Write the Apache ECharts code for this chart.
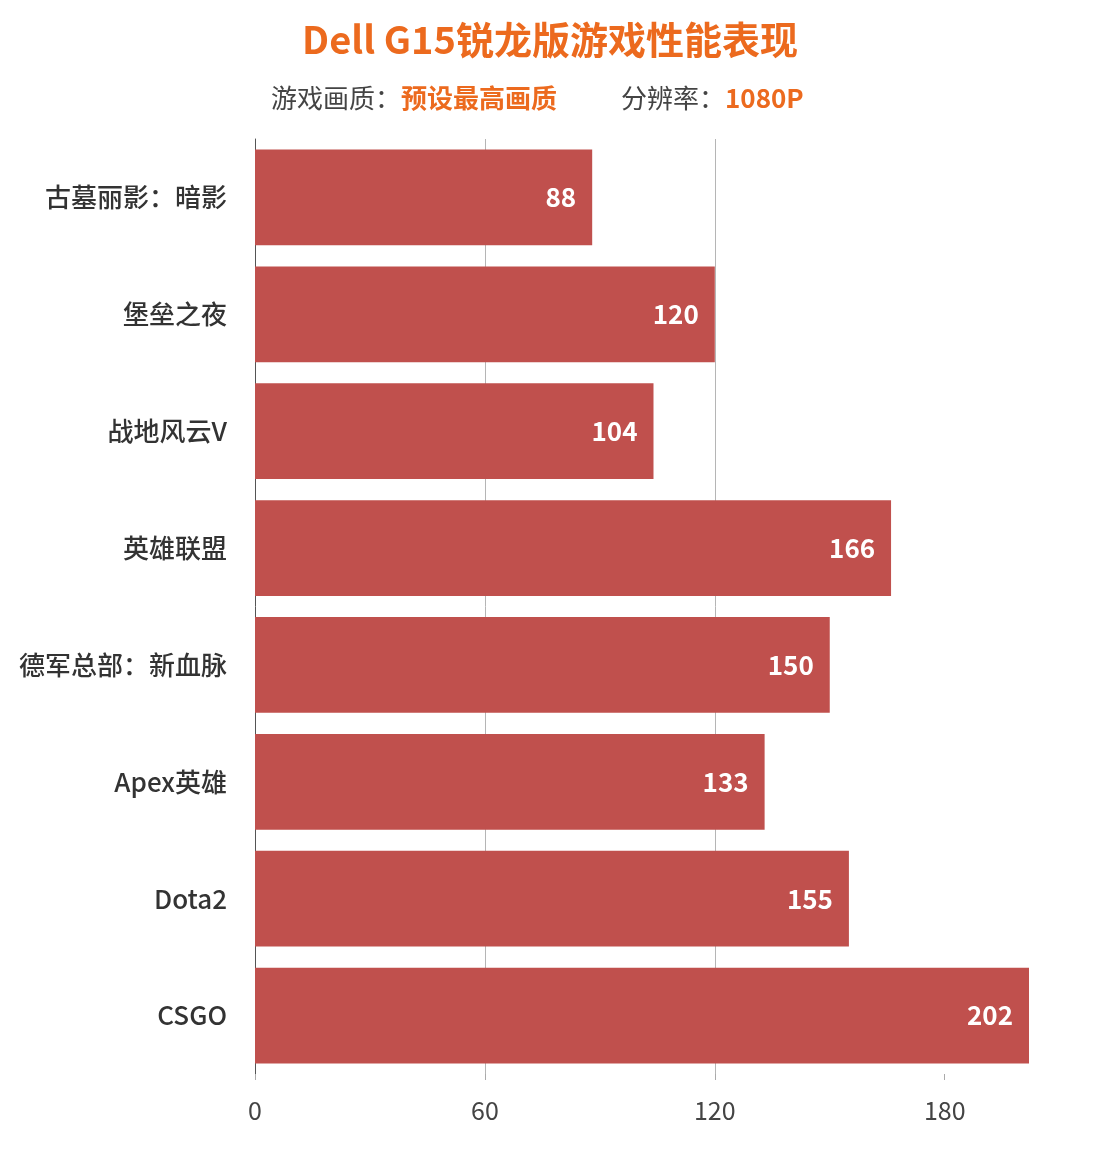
<!DOCTYPE html>
<html><head><meta charset="utf-8">
<script src="https://cdn.jsdelivr.net/npm/echarts@6/dist/echarts.min.js"></script>
<style>html,body{margin:0;padding:0;background:#fff;}#c{width:1100px;height:1162px;}</style>
</head><body><div id="c"></div>
<script>
const categories = ['古墓丽影：暗影','堡垒之夜','战地风云V','英雄联盟','德军总部：新血脉','Apex英雄','Dota2','CSGO'];
const fpsValues = [88,120,104,166,150,133,155,202];
const tickValues = [0,60,120,180];
const titleText = 'Dell G15锐龙版游戏性能表现';

const chart = echarts.init(document.getElementById('c'));
chart.setOption({
  backgroundColor:'#ffffff',
  title:[{
    text:titleText,
    left:'center', top:16,
    textStyle:{color:'#EC6A1E',fontSize:38,fontWeight:'bold',fontFamily:'Noto Sans CJK SC'}
  },{
    text:'{g|游戏画质：}{o|预设最高画质}{s|}{g|分辨率：}{o|1080P}',
    left:266, top:80,
    textStyle:{fontWeight:'normal',rich:{
      g:{color:'#444',fontSize:26,fontWeight:'normal',fontFamily:'Noto Sans CJK SC'},
      o:{color:'#EC6A1E',fontSize:26,fontWeight:'bold',fontFamily:'Noto Sans CJK SC'},
      s:{width:64}
    }}
  }],
  grid:{left:255,right:71,top:139,bottom:88},
  xAxis:{
    type:'value', min:0, max:202, interval:60,
    axisLine:{show:false},
    axisTick:{show:true,length:6,lineStyle:{color:'#aaa'},customValues:tickValues},
    axisLabel:{customValues:tickValues,margin:24,color:'#444',fontSize:25,fontFamily:'Noto Sans CJK SC'},
    splitLine:{show:true,showMinLine:false,showMaxLine:false,lineStyle:{color:'#b5b5b5',width:1}}
  },
  yAxis:{
    type:'category', data:categories, inverse:true,
    axisLine:{show:true,lineStyle:{color:'#555',width:1}},
    axisTick:{show:false},
    axisLabel:{margin:28,color:'#333',fontSize:26,fontWeight:500,fontFamily:'Noto Sans CJK SC'}
  },
  series:[{
    type:'bar', data:fpsValues, barWidth:'82%',
    itemStyle:{color:'#C0504D'},
    label:{show:true,position:'insideRight',distance:16,color:'#fff',fontSize:26,fontWeight:'bold',fontFamily:'Noto Sans CJK SC'}
  }]
});
</script></body></html>
